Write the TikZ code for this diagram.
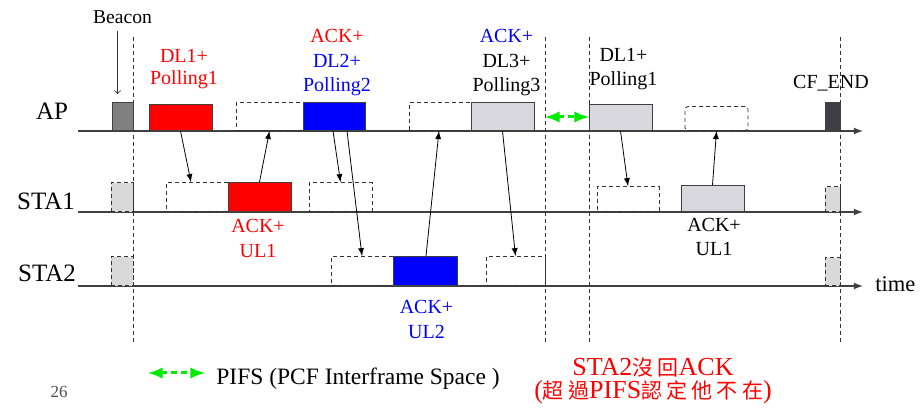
\documentclass[tikz,border=0pt]{standalone}
\usepackage{fontspec}
\setmainfont{Liberation Serif}
\newfontfamily\cjk[LetterSpace=20]{Noto Sans CJK TC}
\usepackage{tikz}

\definecolor{beacongray}{RGB}{128,128,128}
\definecolor{boxgray}{RGB}{216,216,222}
\definecolor{cfgray}{RGB}{62,62,70}
\definecolor{smallgray}{RGB}{217,217,217}
\definecolor{pifsgreen}{RGB}{0,235,0}

\begin{document}
\begin{tikzpicture}[x=0.5pt,y=-0.5pt,
  sz/.style 2 args={minimum width=#1,minimum height=#2},
  frame/.style={draw=black!75,line width=0.5pt,inner sep=0pt,anchor=south},
  slot/.style={draw=black!80,dash pattern=on 2pt off 1.5pt,line width=0.45pt,inner sep=0pt,anchor=south},
  msg/.style={-latex,line width=0.4pt},
  axis/.style={-latex,line width=0.6pt,black!75},
  gap/.style={dash pattern=on 2pt off 1.5pt,line width=0.45pt,black!80},
  pifs/.style={latex-latex,pifsgreen,line width=1.5pt,dash pattern=on 3pt off 2pt},
  lbl/.style={font=\fontsize{10}{12.25}\selectfont,align=center,anchor=base,inner sep=0pt},
  row/.style={font=\fontsize{12.5}{15}\selectfont,anchor=base,inner sep=0pt}]
\useasboundingbox (0,0) rectangle (920,416);

% time lines
\draw[axis] (78,131) -- (863,131);
\draw[axis] (78,212) -- (863,212);
\draw[axis] (78,286) -- (863,286);
\node[row] (ap) at (52,120) {AP};
\node[row] (staone) at (46,210) {STA1};
\node[row] (statwo) at (47,282) {STA2};
\node[font=\fontsize{11.25}{13}\selectfont,anchor=base west,inner sep=0pt] (time) at (875,292) {time};

\foreach \x in {133,545,589,840}
  \draw[gap] (\x,37) -- (\x,342);

% AP
\node[frame,fill=beacongray,sz={10.5pt}{14pt}] (bcn) at (122.5,131) {};
\node[frame,fill=red,sz={31.5pt}{13pt}] (dla) at (180.5,131) {};
\node[slot,sz={33.5pt}{14pt}] (apwa) at (269.5,131) {};
\node[frame,fill=blue,sz={31pt}{14pt}] (dlb) at (334,131) {};
\node[slot,sz={31pt}{14pt}] (apwb) at (440,131) {};
\node[frame,fill=boxgray,sz={31.5pt}{14pt}] (dlc) at (502.5,131) {};
\node[frame,fill=boxgray,sz={31.5pt}{13pt}] (dld) at (620.5,131) {};
\node[slot,rounded corners=1.5pt,sz={31.5pt}{12pt}] (apwd) at (716.5,131) {};
\node[frame,fill=cfgray,sz={7.5pt}{14pt}] (cfend) at (832.5,131) {};

% STA1
\node[slot,fill=smallgray,sz={11pt}{14.5pt}] (sonea) at (122,212) {};
\node[slot,sz={31pt}{14.5pt}] (soneb) at (197,212) {};
\node[frame,fill=red,sz={31.5pt}{14.5pt}] (ulone) at (259.5,212) {};
\node[slot,sz={31.5pt}{14.5pt}] (sonec) at (340.5,212) {};
\node[slot,sz={31pt}{12.5pt}] (soned) at (628,212) {};
\node[frame,fill=boxgray,sz={31.5pt}{13pt}] (ulthree) at (712.5,212) {};
\node[slot,fill=smallgray,sz={7.5pt}{12.5pt}] (sonee) at (832.5,212) {};

% STA2
\node[slot,fill=smallgray,sz={11pt}{14.5pt}] (stwoa) at (122,286) {};
\node[slot,sz={31pt}{14.5pt}] (stwob) at (362,286) {};
\node[frame,fill=blue,sz={32pt}{14.5pt}] (ultwo) at (425,286) {};
\node[slot,sz={29.5pt}{14.5pt}] (stwoc) at (515.5,286) {};
\node[slot,fill=smallgray,sz={7.5pt}{14pt}] (stwod) at (832.5,286) {};

% labels
\node[font=\fontsize{9.8}{11}\selectfont,anchor=base,inner sep=0pt] (beacon) at (122.5,24) {Beacon};
\draw[->,black!80,line width=0.4pt,shorten <=3pt,shorten >=4pt] ([xshift=-2.5pt]beacon.south) -- ([xshift=-2.5pt]bcn.north);
\node[lbl,text=red,font=\fontsize{10}{11}\selectfont] (dlatxt) at (184,85) {DL1+\\Polling1};
\node[lbl,text=blue] (dlbtxt) at (337,91.7) {\textcolor{red}{ACK+}\\DL2+\\Polling2};
\node[lbl] (dlctxt) at (506.5,91.7) {\textcolor{blue}{ACK+}\\DL3+\\Polling3};
\node[lbl] (dldtxt) at (623.5,86) {DL1+\\Polling1};
\node[lbl] (cftxt) at (831,88.3) {CF\_END};
\node[lbl,text=red] (ulonetxt) at (258,257.3) {ACK+\\UL1};
\node[lbl] (ulthreetxt) at (714,256) {ACK+\\UL1};
\node[lbl,text=blue] (ultwotxt) at (426.5,338.3) {ACK+\\UL2};

% frames sent
\draw[msg] (dla.south) -- ([xshift=-3pt]soneb.north);
\draw[msg] (ulone.north) -- (apwa.south);
\draw[msg] ([xshift=-0.5pt]dlb.south) -- (sonec.north);
\draw[msg] ([xshift=6.5pt]dlb.south) -- (stwob.north);
\draw[msg] ([xshift=0.5pt]ultwo.north) -- ([xshift=-0.5pt]apwb.south);
\draw[msg] (dlc.south) -- (stwoc.north);
\draw[msg] (dld.south) -- (soned.north);
\draw[msg] (ulthree.north) -- (apwd.south);

% PIFS
\coordinate (pifsa) at (545,117);
\coordinate (pifsb) at (589,117);
\draw[pifs] (pifsa) -- (pifsb);
\coordinate (lega) at (148,373);
\coordinate (legb) at (205,373);
\draw[pifs] (lega) -- (legb);
\node[font=\fontsize{11.75}{14}\selectfont,anchor=base west,inner sep=0pt] (legend) at (216,385) {PIFS (PCF Interframe Space )};

\node[font=\fontsize{8.5}{10}\selectfont,text=black!70,anchor=base,inner sep=0pt] (pg) at (59,397) {26};

\node[font=\fontsize{13}{15}\selectfont,text=red,anchor=base,inner sep=0pt] (note) at (653,376) {STA2{\cjk\fontsize{10.5}{12}\selectfont 沒回}ACK};
\node[font=\fontsize{13}{15}\selectfont,text=red,anchor=base,inner sep=0pt] (notea) at (653,399) {({\cjk\fontsize{10.5}{12}\selectfont 超過}PIFS{\cjk\fontsize{10.5}{12}\selectfont 認定他不在})};
\end{tikzpicture}
\end{document}
